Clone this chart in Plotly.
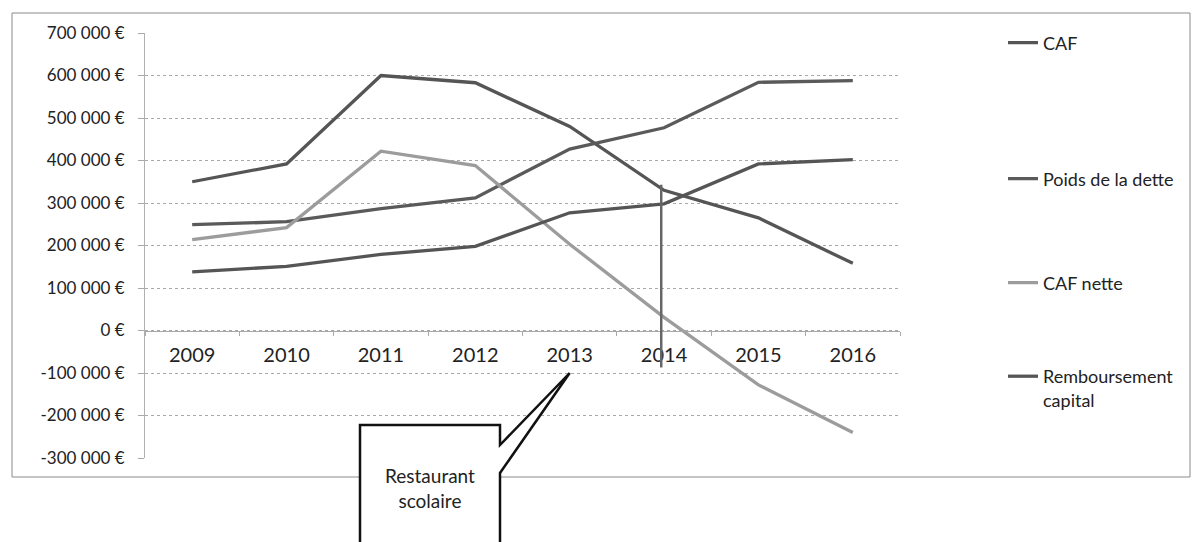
import plotly.graph_objects as go

# ---------------- data ----------------
years = [2009, 2010, 2011, 2012, 2013, 2014, 2015, 2016]
caf = [350000, 392000, 600000, 583000, 480000, 330000, 265000, 158000]
poids_dette = [249000, 256000, 287000, 312000, 427000, 477000, 584000, 588000]
caf_nette = [214000, 242000, 422000, 388000, 203000, 31000, -128000, -240000]
remboursement = [138000, 151000, 179000, 198000, 277000, 298000, 392000, 402000]

y_ticks = [700000, 600000, 500000, 400000, 300000, 200000, 100000, 0,
           -100000, -200000, -300000]
y_tick_labels = ["700 000 €", "600 000 €", "500 000 €", "400 000 €", "300 000 €",
                 "200 000 €", "100 000 €", "0 €", "-100 000 €", "-200 000 €",
                 "-300 000 €"]
x_tick_labels = [str(y) for y in years]

# vertical marker line drawn at 2014
marker_year = 2014
marker_range = [343000, -87000]
callout_target = (2013, -100000)
callout_text = "Restaurant<br>scolaire"

FONT = "Lato"
DARK = "#555555"
LIGHT = "#9c9c9c"

fig = go.Figure()
series = [
    ("CAF", caf, DARK, "legend"),
    ("Poids de la dette", poids_dette, "#5a5a5a", "legend2"),
    ("CAF nette", caf_nette, LIGHT, "legend3"),
    ("Remboursement<br>capital", remboursement, DARK, "legend4"),
]
for name, vals, col, lg in series:
    fig.add_trace(go.Scatter(x=years, y=vals, mode="lines", name=name,
                             line=dict(color=col, width=3.3), legend=lg,
                             showlegend=True))

W, H = 1200, 542
L, R, T, B = 145, 300, 33, 84
pw, ph = W - L - R, H - T - B


def px(xp):
    return (xp - L) / pw


def py(yp):
    return (H - B - yp) / ph


LEG_X = px(1003)
legend_common = dict(bgcolor="rgba(0,0,0,0)", borderwidth=0,
                     font=dict(family=FONT, size=18, color="#222"),
                     xanchor="left", itemwidth=30, visible=True)

fig.update_layout(
    width=W, height=H,
    margin=dict(l=L, r=R, t=T, b=B),
    paper_bgcolor="white", plot_bgcolor="white",
    showlegend=True,
    font=dict(family=FONT, size=18, color="#222"),
    legend=dict(x=LEG_X, y=py(43), yanchor="middle", **legend_common),
    legend2=dict(x=LEG_X, y=py(179), yanchor="middle", **legend_common),
    legend3=dict(x=LEG_X, y=py(283), yanchor="middle", **legend_common),
    legend4=dict(x=LEG_X, y=py(358), yanchor="top", valign="top", **legend_common),
    yaxis=dict(range=[-300000, 700000], tickvals=y_ticks, ticktext=y_tick_labels,
               showgrid=True, gridcolor="#a8a8a8", griddash="dot", gridwidth=1,
               showline=True, linecolor="#b0b0b0", linewidth=1,
               ticks="outside", ticklen=6, tickcolor="#a8a8a8",
               ticklabelstandoff=10,
               zeroline=False, tickfont=dict(family=FONT, size=17, color="#222")),
    xaxis=dict(range=[2008.5, 2016.5], tickvals=years, ticktext=x_tick_labels,
               anchor="free", position=0.3, showgrid=False, zeroline=False,
               showline=True, linecolor="#a8a8a8", linewidth=1, ticks="",
               ticklabelstandoff=6,
               minor=dict(tickvals=[2008.5 + i for i in range(9)], ticks="outside",
                          ticklen=4, tickcolor="#a8a8a8", showgrid=False),
               tickfont=dict(family=FONT, size=20, color="#222")),
)

# outer chart border
fig.add_shape(type="rect", xref="paper", yref="paper",
              x0=px(12), x1=px(1190), y0=py(477), y1=py(13),
              line=dict(color="#8a8a8a", width=1), fillcolor="rgba(0,0,0,0)",
              layer="below")

# vertical marker line
fig.add_shape(type="line", xref="x", yref="y",
              x0=marker_year - 0.03, x1=marker_year - 0.03,
              y0=marker_range[0], y1=marker_range[1],
              line=dict(color="#666666", width=2.5))

# callout box with pointer
tip_x = px(L + (callout_target[0] - 2008.5) * pw / 8)
tip_y = (callout_target[1] + 300000) / 1000000
path = (f"M {px(360)},{py(425)} L {px(500)},{py(425)} L {px(500)},{py(445)} "
        f"L {tip_x},{tip_y} L {px(500)},{py(473)} L {px(500)},{py(600)} "
        f"L {px(360)},{py(600)} Z")
fig.add_shape(type="path", xref="paper", yref="paper", path=path,
              line=dict(color="#111111", width=2.5), fillcolor="white")
fig.add_annotation(xref="paper", yref="paper", x=px(430), y=py(488),
                   text=callout_text, showarrow=False,
                   font=dict(family=FONT, size=19, color="#222"),
                   xanchor="center", yanchor="middle", align="center")

fig.write_html("out.html")
